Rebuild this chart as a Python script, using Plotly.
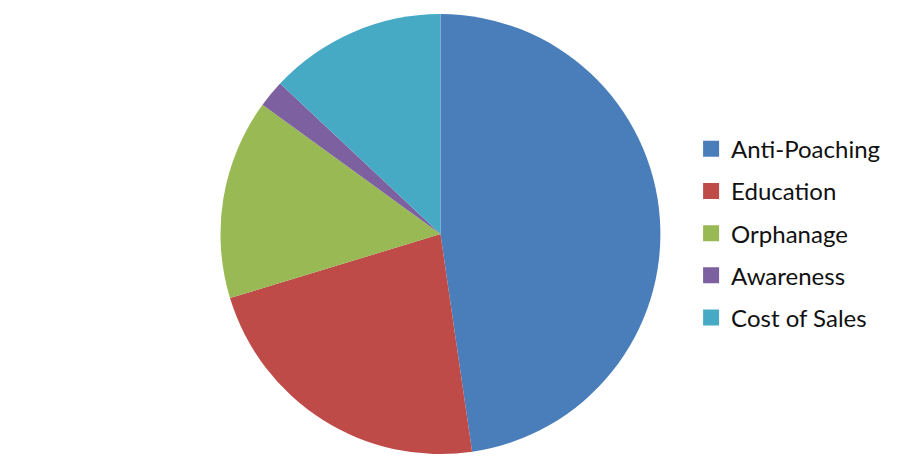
import plotly.graph_objects as go

labels = ["Anti-Poaching", "Education", "Orphanage", "Awareness", "Cost of Sales"]
values = [47.7, 22.6, 14.7, 2.0, 13.0]
colors = ["#4a7ebb", "#be4b48", "#98b954", "#7d60a0", "#46aac5"]

fig = go.Figure(go.Pie(
    labels=labels,
    values=values,
    sort=False,
    direction="clockwise",
    rotation=0,
    textinfo="none",
    hoverinfo="label+percent",
    marker=dict(colors=colors, line=dict(color="#ffffff", width=0)),
    domain=dict(x=[0.236, 0.725], y=[0.051, 0.987]),
    showlegend=False,
))

# legend entries drawn as dummy markers so the row spacing can be widened
for lab, col in zip(labels, colors):
    fig.add_trace(go.Scatter(
        x=[None], y=[None], mode="markers", name=lab, legendgroup=lab,
        marker=dict(symbol="square", size=16, color=col),
    ))

fig.update_layout(
    width=900, height=470,
    margin=dict(l=0, r=0, t=0, b=0),
    paper_bgcolor="white",
    plot_bgcolor="white",
    xaxis=dict(visible=False),
    yaxis=dict(visible=False),
    font=dict(family="Lato", size=24, color="#111111"),
    legend=dict(x=0.759, y=0.521, xanchor="left", yanchor="middle",
                font=dict(size=24), itemwidth=30, tracegroupgap=8),
)

fig.write_html("out.html")
